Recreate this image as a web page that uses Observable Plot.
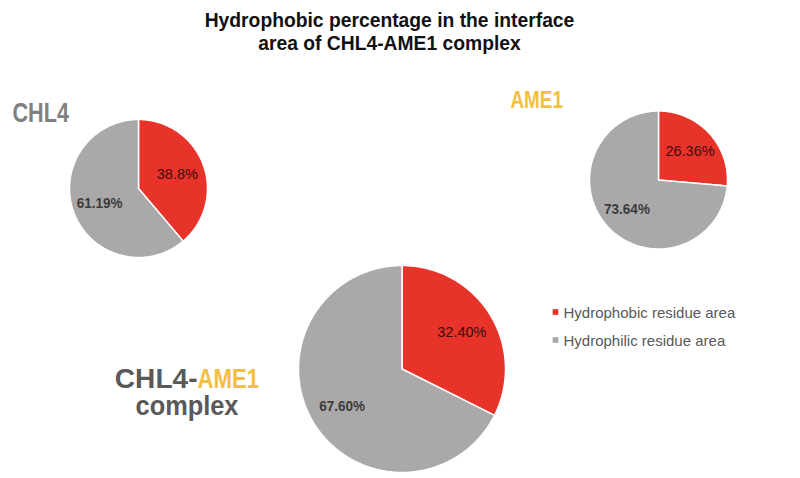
<!DOCTYPE html>
<html>
<head>
<meta charset="utf-8">
<script src="https://cdn.jsdelivr.net/npm/d3@7"></script>
<script src="https://cdn.jsdelivr.net/npm/@observablehq/plot@0.6"></script>
<style>
  html, body { margin: 0; padding: 0; background: #fff; }
  #wrap { width: 800px; height: 478px; overflow: hidden; }
  #title {
    box-sizing: border-box; height: 60px; padding-top: 9px; padding-right: 21px;
    font-family: "Liberation Sans", Arial, sans-serif; font-weight: bold;
    font-size: 19.3px; line-height: 23px; text-align: center; color: #111;
  }
</style>
</head>
<body>
<div id="wrap">
  <div id="title">Hydrophobic percentage in the interface<br>area of CHL4-AME1 complex</div>
  <div id="chart"></div>
</div>
<script>
// ---- data ----
const pieNames = ["CHL4", "AME1", "CHL4-AME1 complex"];
const categories = ["Hydrophobic residue area", "Hydrophilic residue area"];
const hydrophobic = [38.8, 26.36, 32.40];
const hydrophilic = [61.19, 73.64, 67.60];
const hydrophobicLabels = ["38.8%", "26.36%", "32.40%"];
const hydrophilicLabels = ["61.19%", "73.64%", "67.60%"];
const colors = ["#E8332A", "#AAA8A9"];

// ---- layout (page pixels) ----
const layout = [
  {cx: 138, cy: 188, r: 69, lab: 0.6},
  {cx: 658, cy: 179.5, r: 69, lab: 0.62},
  {cx: 401.5, cy: 368.5, r: 103.5, lab: 0.68}
];
const TOP = 60, W = 800, H = 478 - TOP;

const polys = [], labels = [];
pieNames.forEach((name, i) => {
  const L = layout[i];
  const arcs = d3.pie().sort(null)([hydrophobic[i], hydrophilic[i]]);
  const texts = [hydrophobicLabels[i], hydrophilicLabels[i]];
  arcs.forEach((a, j) => {
    const id = i + "-" + j;
    polys.push({id, cat: categories[j], x: L.cx, y: L.cy});
    const n = Math.max(2, Math.ceil((a.endAngle - a.startAngle) / (Math.PI / 180)));
    for (let k = 0; k <= n; k++) {
      const t = a.startAngle + (a.endAngle - a.startAngle) * k / n;
      polys.push({id, cat: categories[j], x: L.cx + L.r * Math.sin(t), y: L.cy - L.r * Math.cos(t)});
    }
    const m = (a.startAngle + a.endAngle) / 2;
    labels.push({text: texts[j], cat: j, x: L.cx + L.lab * L.r * Math.sin(m), y: L.cy - L.lab * L.r * Math.cos(m)});
  });
});

const legend = categories.map((c, j) => ({cat: c, x: 555, y: 311.5 + 28 * j}));
const [cplxA, cplxB] = pieNames[2].split(" ")[0].split("-");
const cplxC = pieNames[2].split(" ")[1];

const chart = Plot.plot({
  width: W, height: H,
  margin: 0,
  x: {domain: [0, W], range: [0, W], axis: null},
  y: {domain: [TOP, 478], range: [0, H], axis: null},
  color: {domain: categories, range: colors},
  style: {fontFamily: "'Liberation Sans', Arial, sans-serif", background: "#fff"},
  marks: [
    Plot.line(polys, {x: "x", y: "y", z: "id", fill: "cat", stroke: "white", strokeWidth: 1.5, curve: "linear-closed"}),
    Plot.text(labels.filter(d => d.cat === 0), {x: "x", y: "y", text: "text", fontSize: 14.5, fill: "#3a0c0a"}),
    Plot.text(labels.filter(d => d.cat === 1), {x: "x", y: "y", text: "text", fontSize: 15, fontWeight: "bold", fill: "#3c3c3c"}),
    // pie titles
    Plot.text([pieNames[0]], {x: 12, y: 113, text: d => d, textAnchor: "start", fontSize: 27, fontWeight: "bold", fill: "#808080"}),
    Plot.text([pieNames[1]], {x: 510, y: 100.5, text: d => d, textAnchor: "start", fontSize: 23, fontWeight: "bold", fill: "#F4BE3E"}),
    Plot.text([cplxA + "-"], {x: 197, y: 379, text: d => d, textAnchor: "end", fontSize: 27, fontWeight: "bold", fill: "#595959"}),
    Plot.text([cplxB], {x: 197, y: 379, text: d => d, textAnchor: "start", fontSize: 27, fontWeight: "bold", fill: "#F4BE3E"}),
    Plot.text([cplxC], {x: 186.5, y: 406, text: d => d, fontSize: 27, fontWeight: "bold", fill: "#595959"}),
    // legend
    Plot.dot(legend, {x: "x", y: "y", fill: "cat", symbol: "square", r: 3.2}),
    Plot.text(legend, {x: d => d.x + 8, y: d => d.y + 1, text: "cat", textAnchor: "start", fontSize: 15, fill: "#595959"})
  ]
});
document.getElementById("chart").appendChild(chart);

// horizontally condense some texts (the reference uses a narrow face)
const squeeze = new Map([
  [pieNames[0], 0.8], [pieNames[1], 0.86],
  [cplxA + "-", 1.04], [cplxB, 0.82], [cplxC, 0.94],
  ...hydrophilicLabels.map(s => [s, 0.9])
]);
chart.querySelectorAll("text").forEach(t => {
  const s = squeeze.get(t.textContent);
  if (s == null) return;
  const len = t.getComputedTextLength();
  t.setAttribute("textLength", (len * s).toFixed(2));
  t.setAttribute("lengthAdjust", "spacingAndGlyphs");
});
</script>
</body>
</html>
